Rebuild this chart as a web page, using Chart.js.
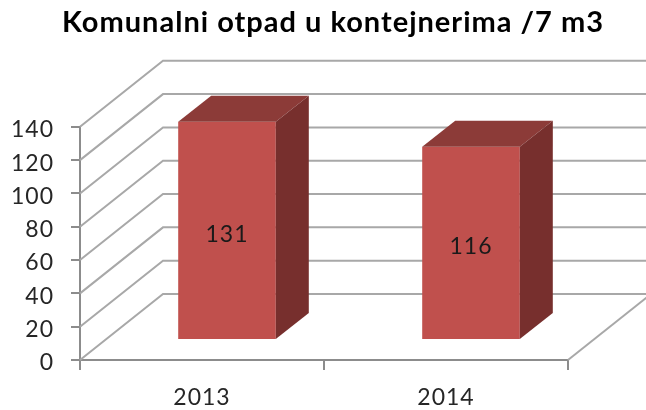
<!DOCTYPE html>
<html>
<head>
<meta charset="utf-8">
<title>Komunalni otpad</title>
<script src="https://cdn.jsdelivr.net/npm/chart.js@4"></script>
<style>
  html, body { margin: 0; padding: 0; background: #fff; }
  #wrap { position: relative; width: 646px; height: 410px; overflow: hidden; }
  canvas { display: block; filter: blur(0.4px); }
</style>
</head>
<body>
<div id="wrap"><canvas id="otpadChart" width="646" height="410"></canvas></div>
<script>
// podaci
var godine = ['2013', '2014'];
var kontejneri = [131, 116];
var yMax = 140;
var yKorak = 20;
var naslov = 'Komunalni otpad u kontejnerima /7 m3';

var fontName = 'Lato, "Open Sans", sans-serif';
var gridColor = '#a8a8a8';
var axisColor = '#8c8c8c';

// pomak zadnjeg zida i stupca (3D izgled)
var wall = { dx: 83, dy: 66 };
var barShift = { dx: 25, dy: 20 };
var depth = { dx: 33, dy: 26 };

function poly(ctx, pts, color) {
  ctx.beginPath();
  ctx.moveTo(pts[0][0], pts[0][1]);
  for (var i = 1; i < pts.length; i++) ctx.lineTo(pts[i][0], pts[i][1]);
  ctx.closePath();
  ctx.fillStyle = color;
  ctx.fill();
}

var kutija3d = {
  id: 'kutija3d',
  afterLayout: function (chart) {
    // naslov nije centriran na platnu
    chart.titleBlock.left = 62;
    chart.titleBlock.right = 646;
    chart.titleBlock.width = 584;
  },
  beforeDraw: function (chart) {
    // tekst u originalu je malo razmaknutiji
    chart.ctx.letterSpacing = '1px';
  },
  beforeDatasetsDraw: function (chart) {
    var ctx = chart.ctx;
    var a = chart.chartArea;
    var y = chart.scales.y;
    ctx.save();
    ctx.strokeStyle = gridColor;
    ctx.lineWidth = 2;
    y.ticks.forEach(function (t) {
      var py = y.getPixelForValue(t.value);
      ctx.beginPath();
      ctx.moveTo(a.left, py);
      ctx.lineTo(a.left + wall.dx, py - wall.dy);
      ctx.lineTo(chart.width, py - wall.dy);
      ctx.stroke();
    });
    // desni rub poda
    ctx.beginPath();
    ctx.moveTo(a.right, a.bottom);
    ctx.lineTo(a.right + wall.dx, a.bottom - wall.dy);
    ctx.stroke();
    ctx.restore();
    // stupci stoje na podu, malo iza osi
    ctx.save();
    ctx.translate(barShift.dx, -barShift.dy);
  },
  afterDatasetsDraw: function (chart) {
    var ctx = chart.ctx;
    chart.getDatasetMeta(0).data.forEach(function (bar, i) {
      var l = bar.x - bar.width / 2, r = bar.x + bar.width / 2;
      poly(ctx, [[l, bar.y], [l + depth.dx, bar.y - depth.dy], [r + depth.dx, bar.y - depth.dy], [r, bar.y]], '#8c3b38');
      poly(ctx, [[r, bar.y], [r + depth.dx, bar.y - depth.dy], [r + depth.dx, bar.base - depth.dy], [r, bar.base]], '#772f2d');
      ctx.fillStyle = '#1a1a1a';
      ctx.font = '23px ' + fontName;
      ctx.textAlign = 'center';
      ctx.textBaseline = 'middle';
      ctx.fillText(String(kontejneri[i]), bar.x, (bar.y + bar.base) / 2 + 4);
    });
    ctx.restore();
  }
};

var ctx = document.getElementById('otpadChart').getContext('2d');
var otpadChart = new Chart(ctx, {
  type: 'bar',
  data: {
    labels: godine,
    datasets: [{
      data: kontejneri,
      backgroundColor: '#c0504d',
      borderWidth: 0,
      barPercentage: 0.4,
      categoryPercentage: 1,
      clip: false
    }]
  },
  options: {
    responsive: false,
    animation: false,
    layout: { padding: { right: 78 } },
    plugins: {
      legend: { display: false },
      tooltip: { enabled: false },
      title: {
        display: true,
        text: naslov,
        align: 'start',
        color: '#000',
        font: { family: fontName, size: 29, weight: 'bold' },
        padding: { top: 5, bottom: 87 }
      }
    },
    scales: {
      x: {
        afterFit: function (s) { s.height = 50; },
        border: { color: axisColor, width: 2 },
        grid: { drawOnChartArea: false, color: axisColor, lineWidth: 2, tickLength: 10 },
        ticks: { color: '#262626', padding: 14, font: { family: fontName, size: 23 } }
      },
      y: {
        min: 0,
        max: yMax,
        afterFit: function (s) { s.width = 80; },
        border: { color: axisColor, width: 2 },
        grid: { drawOnChartArea: false, color: axisColor, lineWidth: 2, tickLength: 9 },
        ticks: { stepSize: yKorak, color: '#262626', padding: 17, labelOffset: 3, font: { family: fontName, size: 23 } }
      }
    }
  },
  plugins: [kutija3d]
});
</script>
</body>
</html>
